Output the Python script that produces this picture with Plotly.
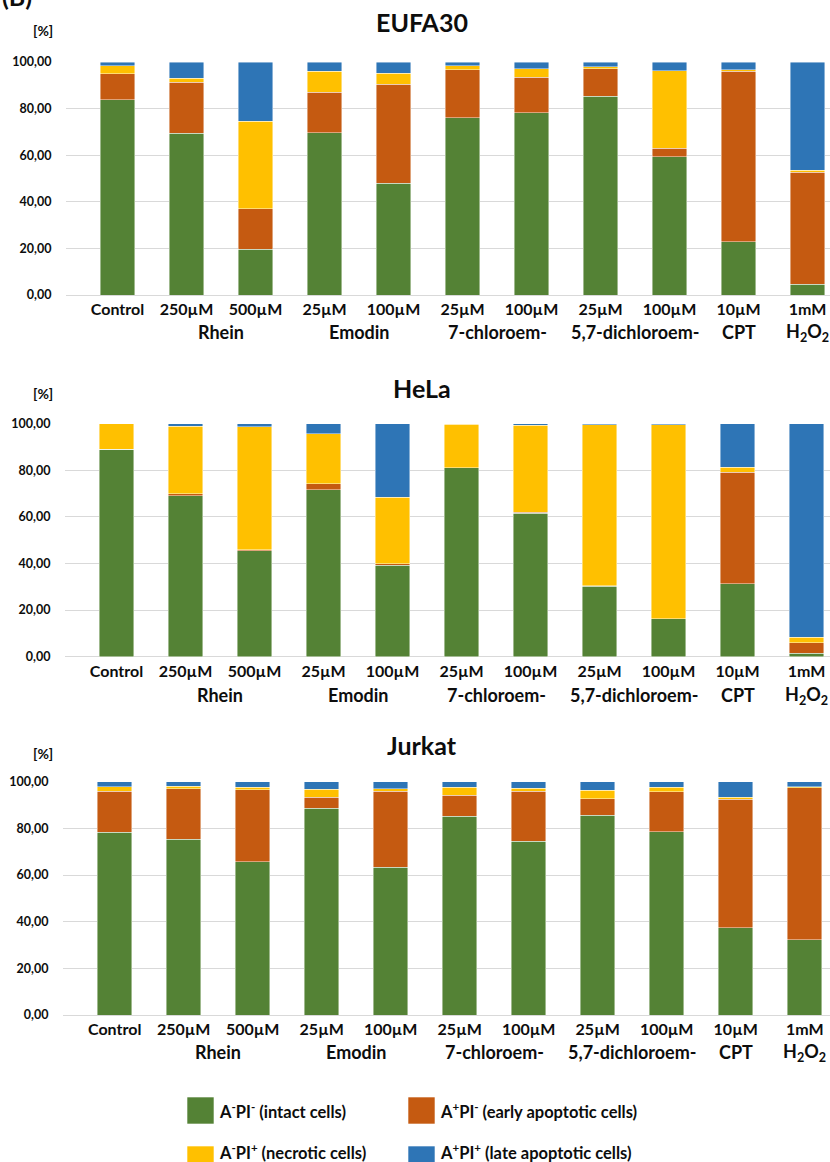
import plotly.graph_objects as go

# ---- categories -------------------------------------------------------
concentrations = ["Control", "250µM", "500µM", "25µM", "100µM", "25µM",
                  "100µM", "25µM", "100µM", "10µM", "1mM"]
compound_groups = ["Rhein", "Emodin", "7-chloroem-", "5,7-dichloroem-",
                   "CPT", "H<sub>2</sub>O<sub>2</sub>"]
group_spans = [(1, 2), (3, 4), (5, 6), (7, 8), (9, 9), (10, 10)]
positions = list(range(len(concentrations)))
y_ticks = [0, 20, 40, 60, 80, 100]
y_ticktext = ["0,00", "20,00", "40,00", "60,00", "80,00", "100,00"]

# ---- EUFA30 -----------------------------------------------------------
eufa_intact = [83.9, 69.4, 19.7, 69.7, 48.0, 76.1, 78.3, 85.3, 59.4, 22.9, 4.7]
eufa_early = [11.0, 21.9, 17.4, 17.4, 42.4, 20.6, 15.1, 11.7, 3.5, 73.2, 47.9]
eufa_necrotic = [3.4, 1.8, 37.5, 8.9, 4.7, 1.6, 3.7, 0.9, 33.4, 0.6, 1.0]
eufa_late = [1.7, 6.9, 25.4, 4.0, 4.9, 1.7, 2.9, 2.1, 3.7, 3.3, 46.4]

# ---- HeLa -------------------------------------------------------------
hela_intact = [89.0, 69.1, 45.5, 71.7, 39.2, 81.0, 61.5, 30.2, 16.2, 31.3, 1.4]
hela_early = [0.0, 0.9, 0.4, 2.5, 0.7, 0.0, 0.4, 0.3, 0.0, 47.8, 4.6]
hela_necrotic = [11.0, 29.0, 52.7, 21.5, 28.6, 18.7, 37.4, 69.1, 83.4, 2.3, 2.3]
hela_late = [0.0, 1.0, 1.4, 4.3, 31.5, 0.3, 0.7, 0.4, 0.4, 18.6, 91.7]

# ---- Jurkat -----------------------------------------------------------
jurkat_intact = [78.4, 75.3, 65.6, 88.6, 63.3, 85.1, 74.4, 85.6, 78.6, 37.4, 32.3]
jurkat_early = [17.5, 21.7, 31.0, 4.8, 32.6, 9.0, 21.5, 7.1, 17.1, 55.0, 65.1]
jurkat_necrotic = [2.0, 1.1, 1.0, 3.3, 1.0, 3.5, 1.2, 3.6, 1.9, 0.9, 0.5]
jurkat_late = [2.1, 1.9, 2.4, 3.3, 3.1, 2.4, 2.9, 3.7, 2.4, 6.7, 2.1]

series_names = ["A<sup>-</sup>PI<sup>-</sup> (intact cells)",
                "A<sup>+</sup>PI<sup>-</sup> (early apoptotic cells)",
                "A<sup>-</sup>PI<sup>+</sup> (necrotic cells)",
                "A<sup>+</sup>PI<sup>+</sup> (late apoptotic cells)"]
colors = ["#548235", "#C55A11", "#FFC000", "#2E75B6"]

panels = [
    ("EUFA30", [eufa_intact, eufa_early, eufa_necrotic, eufa_late]),
    ("HeLa", [hela_intact, hela_early, hela_necrotic, hela_late]),
    ("Jurkat", [jurkat_intact, jurkat_early, jurkat_necrotic, jurkat_late]),
]

W, H = 830, 1162
FONT = "Lato, 'Open Sans', sans-serif"
TXT = "#0d0d0d"


def py(pix):
    """Convert a pixel row (from top) to paper y."""
    return 1 - pix / H


def px(pix):
    return pix / W


# per-panel geometry in pixels: plot top/bottom/left, first bar centre,
# title row, unit row, compound-group row
geom = [
    dict(top=62, bottom=295, left=66, c0=117.5, title=22, unit=31, grp=332),
    dict(top=423.7, bottom=656.7, left=65, c0=116.5, title=388, unit=393, grp=695),
    dict(top=781.7, bottom=1015, left=63, c0=114.7, title=745, unit=753, grp=1052),
]
SPACING = 69.0

fig = go.Figure()
annotations = []
layout_axes = {}

for k, ((title, values), g) in enumerate(zip(panels, geom)):
    xa = "x" if k == 0 else f"x{k + 1}"
    ya = "y" if k == 0 else f"y{k + 1}"
    for name, vals, col in zip(series_names, values, colors):
        fig.add_trace(go.Bar(
            x=positions, y=vals, name=name, xaxis=xa, yaxis=ya,
            width=0.5, marker=dict(color=col,
                                   line=dict(color="rgba(255,255,255,0.55)", width=0.8)),
            showlegend=False,
        ))
    xkey = "xaxis" if k == 0 else f"xaxis{k + 1}"
    ykey = "yaxis" if k == 0 else f"yaxis{k + 1}"
    layout_axes[xkey] = dict(
        domain=[px(g["left"]), 1.0], anchor=ya, automargin=False,
        range=[(g["left"] - g["c0"]) / SPACING, (W - g["c0"]) / SPACING],
        tickmode="array", tickvals=positions, ticktext=concentrations,
        tickfont=dict(family=FONT, size=16, color=TXT, weight="bold"),
        ticks="outside", ticklen=0, tickcolor="rgba(0,0,0,0)",
        showgrid=False, zeroline=False, showline=False, fixedrange=True,
    )
    layout_axes[ykey] = dict(
        domain=[py(g["bottom"]), py(g["top"])], anchor=xa, automargin=False,
        range=[0, 100], tickmode="array", tickvals=y_ticks, ticktext=y_ticktext,
        tickfont=dict(family=FONT, size=12.5, color=TXT, weight="bold"),
        ticks="outside", ticklen=11, tickcolor="rgba(0,0,0,0)",
        showgrid=True, gridcolor="#d9d9d9", gridwidth=1,
        zeroline=True, zerolinecolor="#d9d9d9", zerolinewidth=1,
        showline=False, fixedrange=True,
    )
    # panel title
    annotations.append(dict(
        text=title, xref="paper", yref="paper", x=px(422), y=py(g["title"]),
        xanchor="center", yanchor="middle", showarrow=False,
        font=dict(family=FONT, size=25, color=TXT, weight="bold")))
    # unit label
    annotations.append(dict(
        text="[%]", xref="paper", yref="paper", x=px(42.5), y=py(g["unit"]),
        xanchor="center", yanchor="middle", showarrow=False,
        font=dict(family=FONT, size=14, color=TXT, weight="bold")))
    # compound group labels under the concentrations
    for grp, (a, b) in zip(compound_groups, group_spans):
        annotations.append(dict(
            text=grp, xref=xa, yref="paper", x=(a + b) / 2, y=py(g["grp"]),
            xanchor="center", yanchor="middle", showarrow=False,
            font=dict(family=FONT, size=18, color=TXT, weight="bold")))

# panel letter in the top-left corner
annotations.append(dict(
    text="(B)", xref="paper", yref="paper", x=px(0), y=py(-4),
    xanchor="left", yanchor="middle", showarrow=False,
    font=dict(family=FONT, size=25, color=TXT, weight="bold")))

# legend: coloured squares with labels
shapes = []
legend_items = [(187, 1097, 1110.5), (408, 1097, 1110.5),
                (187, 1146, 1152), (408, 1146, 1152)]
for (lx, ly, ty), name, col in zip(legend_items, series_names, colors):
    shapes.append(dict(type="rect", xref="paper", yref="paper",
                       x0=px(lx), x1=px(lx + 27), y0=py(ly + 27), y1=py(ly),
                       fillcolor=col, line=dict(color="rgba(255,255,255,0.6)", width=1)))
    annotations.append(dict(
        text=name, xref="paper", yref="paper", x=px(lx + 30), y=py(ty),
        xanchor="left", yanchor="middle", showarrow=False,
        font=dict(family=FONT, size=16.5, color=TXT, weight="bold")))

fig.update_layout(
    width=W, height=H, autosize=False,
    margin=dict(l=0, r=0, t=0, b=0, autoexpand=False),
    paper_bgcolor="white", plot_bgcolor="white",
    barmode="stack", bargap=0.5,
    annotations=annotations, shapes=shapes,
    showlegend=False,
    **layout_axes,
)

fig.write_html("out.html")
